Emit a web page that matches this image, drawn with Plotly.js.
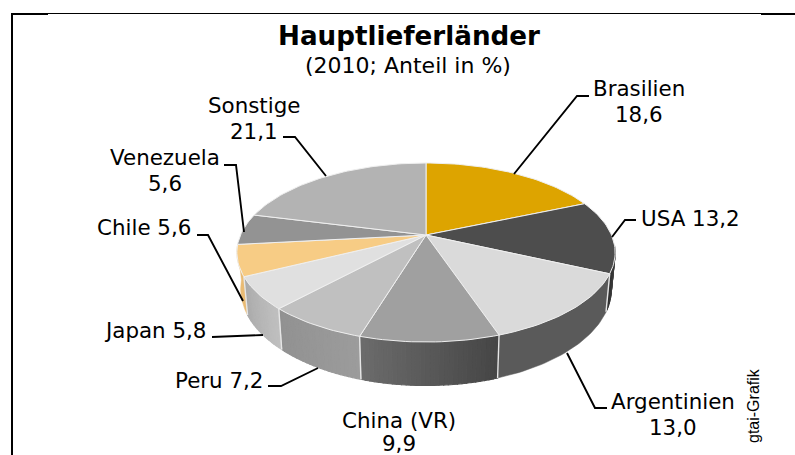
<!DOCTYPE html>
<html><head><meta charset="utf-8">
<script src="https://cdn.plot.ly/plotly-3.0.1.min.js"></script>
<style>html,body{margin:0;padding:0;background:#fff;overflow:hidden}#c{width:795px;height:455px}</style>
</head><body><div id="c"></div>
<script>
var countries = ["Brasilien","USA","Argentinien","China (VR)","Peru","Japan","Chile","Venezuela","Sonstige"];
var shares = [18.6,13.2,13.0,9.9,7.2,5.8,5.6,5.6,21.1];
var topColors = ["#DDA400","#4D4D4D","#DADADA","#A0A0A0","#C0C0C0","#E0E0E0","#F7CC85","#939393","#B3B3B3"];
var sideFrom = [null,"#2e2e2e","#5a5a5a","#6c6c6c","#919191","#aaaaaa","#e9bb74",null,null];
var sideTo   = [null,"#555555","#5a5a5a","#454545","#9c9c9c","#c0c0c0","#e9bb74",null,null];
var labelLines = [["Brasilien","18,6"],["USA 13,2"],["Argentinien","13,0"],["China (VR)","9,9"],["Peru 7,2"],["Japan 5,8"],["Chile 5,6"],["Venezuela","5,6"],["Sonstige","21,1"]];
var labelX = [639,690,673,399,219,155,144,165,254];
var labelY = [88,218,401,420,380,330,227,157,105];
var lineGap = [26.5,0,26.5,23.5,0,0,0,26.5,26.5];
var leaderX = [[514,577,589],[612,625,636],[567,595,607],null,[318,281,268],[263,212],[243,208,197],[244,236,224],[326,295,283]];
var leaderY = [[174,96,96],[237,220,220],[353,408,408],null,[368,386,386],[335,337],[301,235,235],[232,165,165],[176,137,137]];

var CX=426, CY=235, RX=185.5, RY=86.1, PERSP=0.1955, DEPTH=35, BOTTOM_SCALE=0.98;
function pt(deg,d){
  var r=deg*Math.PI/180,u=Math.sin(r),v=Math.cos(r),s=1/(1+PERSP*v);
  return [CX+RX*u*s*(d?BOTTOM_SCALE:1), CY-RY*v*s+(d?DEPTH*s:0)];
}
function hex(c){return [1,3,5].map(function(i){return parseInt(c.substr(i,2),16)});}
function mix(a,b,t){var A=hex(a),B=hex(b);return "rgb("+A.map(function(x,i){return Math.round(x+(B[i]-x)*t)}).join(",")+")";}
var traces=[];
function poly(xs,ys,fill,lc,lw){traces.push({type:"scatter",mode:"lines",x:xs,y:ys,fill:"toself",fillcolor:fill,line:{color:lc,width:lw},hoverinfo:"skip",showlegend:false});}
function seg(xs,ys,c,w){traces.push({type:"scatter",mode:"lines",x:xs,y:ys,line:{color:c,width:w},hoverinfo:"skip",showlegend:false});}

var cum=0, starts=[], stops=[];
shares.forEach(function(v){starts.push(cum*3.6);cum+=v;stops.push(cum*3.6);});

// side wall: visible faces only, each cut into narrow strips for a horizontal gradient
shares.forEach(function(v,i){
  if(!sideFrom[i])return;
  var a0=Math.max(starts[i],97), a1=stops[i];
  var flat=sideFrom[i]===sideTo[i];
  var n=Math.max(2,Math.ceil((a1-a0)/1.2));
  if(flat){
    var xs=[],ys=[],xb=[],yb=[];
    for(var j=0;j<=n;j++){var P=pt(a0+(a1-a0)*j/n,0),Q=pt(a0+(a1-a0)*j/n,1);xs.push(P[0]);ys.push(P[1]);xb.unshift(Q[0]);yb.unshift(Q[1]);}
    poly(xs.concat(xb,[xs[0]]),ys.concat(yb,[ys[0]]),sideFrom[i],sideFrom[i],0.5);
    return;
  }
  for(var k=0;k<n;k++){
    var p=a0+(a1-a0)*k/n,q=a0+(a1-a0)*(k+1)/n;
    var A=pt(p,0),B=pt(q,0),C=pt(q,1),D=pt(p,1);
    var col=mix(sideFrom[i],sideTo[i],1-(k+.5)/n);
    poly([A[0],B[0],C[0],D[0],A[0]],[A[1],B[1],C[1],D[1],A[1]],col,col,1.1);
  }
});
// white seams on the wall
[2,3,4,5,6].forEach(function(i){
  var a=pt(starts[i],0),b=pt(starts[i],1);
  seg([a[0],b[0]],[a[1],b[1]],"#e6e6e6",1.4);
});
// top surface
shares.forEach(function(v,i){
  var xs=[CX],ys=[CY],n=Math.ceil((stops[i]-starts[i])/1.5);
  for(var k=0;k<=n;k++){var P=pt(starts[i]+(stops[i]-starts[i])*k/n,0);xs.push(P[0]);ys.push(P[1]);}
  xs.push(CX);ys.push(CY);
  poly(xs,ys,topColors[i],"#efefef",1);
});
// leaders
leaderX.forEach(function(x,i){if(x)seg(x,leaderY[i],"#000",1.9);});

var FONT="DejaVu Sans";
var ann=[];
function txt(t,x,y,size,fam,angle){ann.push({text:t,x:x,y:y,xref:"x",yref:"y",showarrow:false,xanchor:"center",yanchor:"middle",textangle:angle||0,font:{family:fam||FONT,size:size,color:"#000"}});}
txt("<b>Hauptlieferländer</b>",409,36,26.2);
txt("(2010; Anteil in %)",408,65,22);
labelLines.forEach(function(ls,i){ls.forEach(function(t,j){txt(t,labelX[i],labelY[i]+j*lineGap[i],21.4);});});
txt("gtai-Grafik",753,406,16,"Liberation Sans",-90);

function hl(x0,x1,y,w){return {type:"line",xref:"x",yref:"y",x0:x0,x1:x1,y0:y,y1:y,line:{color:"#000",width:w}};}
var shapes=[hl(11,48,14,2),hl(48,761,13.5,1),hl(761,795,14,2),{type:"line",xref:"x",yref:"y",x0:12,x1:12,y0:13,y1:455,line:{color:"#000",width:2}}];

Plotly.newPlot("c",traces,{
  width:795,height:455,margin:{l:0,r:0,t:0,b:0},paper_bgcolor:"#fff",plot_bgcolor:"#fff",
  xaxis:{range:[0,795],visible:false,fixedrange:true},yaxis:{range:[455,0],visible:false,fixedrange:true},
  annotations:ann,shapes:shapes,showlegend:false
},{displayModeBar:false,staticPlot:true});
</script></body></html>
